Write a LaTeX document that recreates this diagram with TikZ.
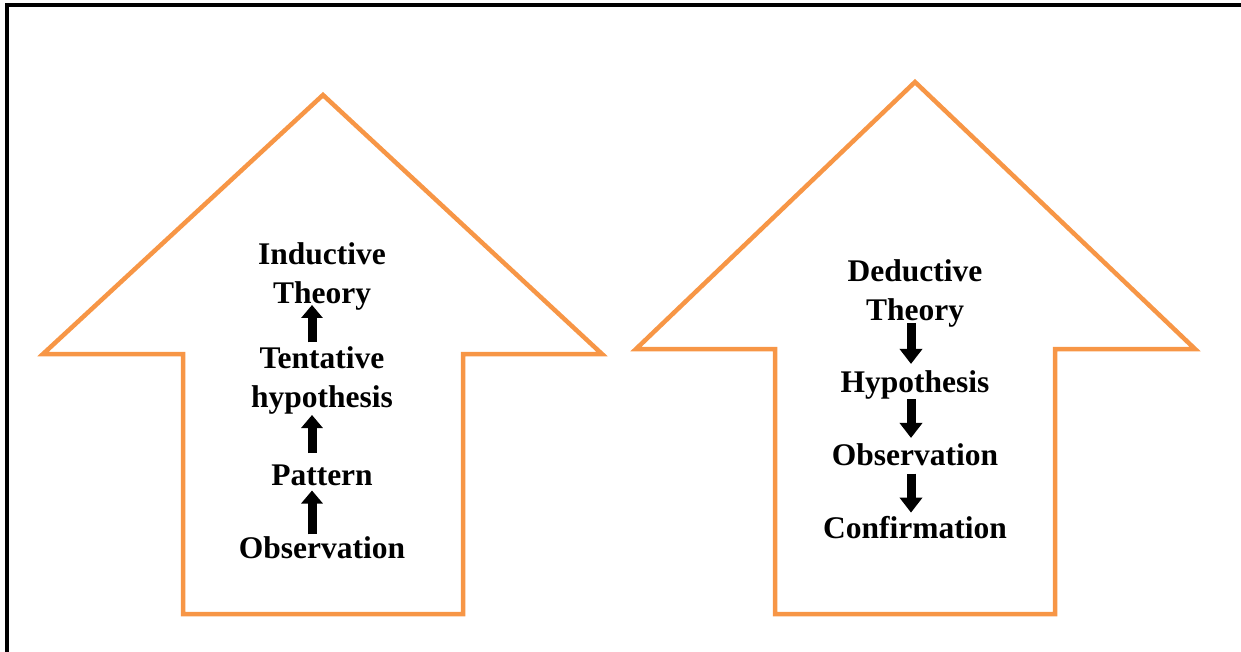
\documentclass[tikz,border=0pt]{standalone}
\usepackage{fontspec}
\setmainfont{Liberation Serif}
\usetikzlibrary{arrows.meta}
\definecolor{outline}{HTML}{F79646}
\begin{document}
\begin{tikzpicture}[x=1pt,y=-1pt,
  bigarrow/.style={draw=outline,line width=4.5pt,line join=miter},
  label/.style={inner sep=0pt,anchor=base,align=center,
    font=\fontsize{31.5}{38.5}\selectfont\bfseries},
  blockup/.style={line width=9pt,-{Triangle[width=21pt,length=13pt]}},
  blockdown/.style={line width=9pt,-{Triangle[width=22pt,length=15pt]}}]
\useasboundingbox (0,0) rectangle (1241,652);
% frame on the top and left
\draw[line width=4pt] (6.5,652) -- (6.5,5.5) -- (1241,5.5);
% the two large outlined arrows
\draw[bigarrow] (323,95) -- (43,354) -- (183,354) -- (183,614) -- (463,614)
  -- (463,354) -- (602,354) -- cycle;
\draw[bigarrow] (915,82) -- (636,349) -- (775,349) -- (775,614) -- (1055,614)
  -- (1055,349) -- (1195,349) -- cycle;
% inductive reasoning (multi-line labels sit on their last baseline)
\node[label] (lind) at (322,303) {Inductive\\Theory};
\node[label] (ltent) at (322,407) {Tentative\\hypothesis};
\node[label] (lpat) at (322,485) {Pattern};
\node[label] (lobs) at (322,558) {Observation};
\draw[blockup,shorten <=1.5pt,shorten >=5pt] ([xshift=-10pt]lobs.north) -- ([xshift=-10pt]lpat.south);
\draw[blockup,shorten <=11pt,shorten >=1pt] ([xshift=-10pt]lpat.north) -- ([xshift=-10pt]ltent.south);
\draw[blockup,shorten <=4pt,shorten >=-5pt] ([xshift=-10pt]ltent.north) -- ([xshift=-10pt]lind.south);
% deductive reasoning
\node[label] (rded) at (915,320) {Deductive\\Theory};
\node[label] (rhyp) at (915,392) {Hypothesis};
\node[label] (robs) at (915,465) {Observation};
\node[label] (rconf) at (915,538) {Confirmation};
\draw[blockdown,shorten <=-4pt,shorten >=6pt] ([xshift=-4pt]rded.south) -- ([xshift=-4pt]rhyp.north);
\draw[blockdown,shorten >=5pt] ([xshift=-4pt]rhyp.south) -- ([xshift=-4pt]robs.north);
\draw[blockdown,shorten <=8pt,shorten >=3pt] ([xshift=-4pt]robs.south) -- ([xshift=-4pt]rconf.north);
\end{tikzpicture}
\end{document}
